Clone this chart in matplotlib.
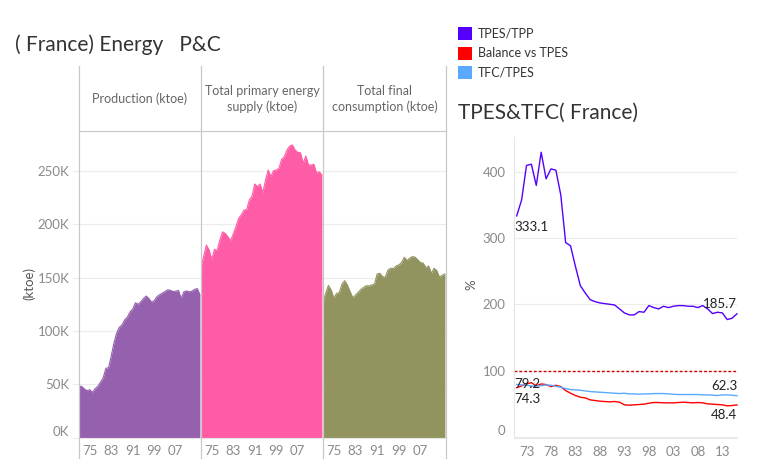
import numpy as np
import matplotlib
matplotlib.use("Agg")
import matplotlib.pyplot as plt
from matplotlib.lines import Line2D
from matplotlib.patches import Rectangle

plt.rcParams['font.family'] = ['Lato', 'DejaVu Sans']

# data
years = list(range(1971, 2017))

production = [48.4, 48, 45.6, 44, 45, 42.4, 46, 48, 52, 56,
              65, 65.6, 76.6, 88.6, 98, 103.4, 105.7, 110.4, 113, 118,
              120.6, 126.5, 125, 127.4, 130.5, 132.8, 130.5, 127, 128.4, 132.2,
              134, 135.5, 137, 138.6, 138.2, 137, 137.3, 138, 130.5, 136.7,
              137.6, 136.7, 137.3, 139, 139.8, 134]
tpes = [160.3, 169.8, 180.7, 176, 167.2, 176.6, 175.4, 185.3, 193, 191.6,
        188.4, 184.7, 191, 197.8, 205.7, 208.8, 213.4, 214, 223, 226.6,
        237.9, 235.4, 237.9, 229.7, 241.6, 251, 244.8, 250.4, 251, 252.6,
        261, 263.5, 269.8, 273.5, 274.5, 269.8, 267.6, 267.3, 257.3, 264.2,
        255.7, 255.7, 256.4, 248, 249.4, 246.3]
tfc = [127.5, 135.3, 142.8, 138.4, 130.9, 135.3, 135.9, 144, 147.2, 143.1,
       136.9, 131.2, 133.7, 136.2, 139, 140.9, 142.5, 142.2, 143.1, 144,
       153.5, 154.1, 151, 150.4, 157.3, 158.8, 158.5, 161, 162, 164.2,
       169.2, 166.1, 168.3, 169.8, 169.2, 166.7, 164.2, 163.6, 159.2, 161,
       154.1, 158.8, 156.6, 150.4, 152.3, 153.5]
panel_titles = ['Production (ktoe)', 'Total primary energy\nsupply (ktoe)',
                'Total final\nconsumption (ktoe)']
panel_colors = ['#9560ad', '#ff5ca8', '#929460']

tpes_tpp = [333.1, 357, 409, 411, 379, 429, 389, 404, 402, 365,
            293, 288, 257, 228, 217, 207, 204, 202, 201, 200,
            199, 193, 187, 184, 184, 189, 188, 198, 195, 193,
            197, 195, 197, 198, 198, 197, 197, 195, 198, 193,
            186, 188, 187, 177, 179, 185.7]
balance = [74.3, 77, 80, 82, 77, 80, 79, 76, 78, 76,
           70, 66, 62.5, 60, 59, 56, 55, 54, 53.5, 53,
           53.5, 52.5, 48.5, 48, 48.5, 49, 49.5, 51, 52, 52,
           51.5, 51.5, 51.5, 52, 52.5, 52, 51.5, 52, 51.5, 50,
           49.5, 49, 48.5, 47, 47.5, 48.4]
tfc_tpes = [79.2, 78.5, 78, 77, 76.5, 77.5, 78.5, 78, 76.5, 75,
            73, 71.5, 71, 70.5, 69.5, 68.5, 68, 67.5, 67, 66.5,
            66, 65.5, 66, 65, 65, 64.5, 65, 65, 65.5, 65.5,
            65.5, 65, 64.5, 64, 64, 64, 64, 64, 63.5, 63.5,
            63, 62.5, 63.5, 63.5, 63, 62.3]
line_names = ['TPES/TPP', 'Balance vs TPES', 'TFC/TPES']
line_colors = ['#5500ff', '#ff0000', '#5aa9ff']

W, H = 757, 467
fig = plt.figure(figsize=(W / 100, H / 100), dpi=100)


def fx(px):
    return px / W


def fy(py):
    return 1 - py / H


grid_c = '#ececec'
tick_c = '#8a8a8a'
border_c = '#c8c8c8'

# ---- left: three area panels
edges = [79, 201, 323, 446]
ktoe_ticks = [0, 50, 100, 150, 200, 250]
series = [production, tpes, tfc]
for i in range(3):
    ax = fig.add_axes([fx(edges[i]), fy(437.6), fx(edges[i + 1] - edges[i]), (437.6 - 131) / H])
    ax.fill_between(years, series[i], 0, color=panel_colors[i], lw=0)
    ax.plot(years, series[i], color=panel_colors[i], lw=0.8)
    ax.set_xlim(1971, 2016.4)
    ax.set_ylim(0, 287.6)
    ax.set_yticks(ktoe_ticks)
    ax.yaxis.grid(True, color=grid_c, lw=0.8)
    ax.set_axisbelow(True)
    ax.set_xticks([1975, 1983, 1991, 1999, 2007])
    ax.set_xticklabels(['75', '83', '91', '99', '07'])
    ax.tick_params(axis='x', length=0, colors=tick_c, labelsize=9.5, pad=5)
    for s in ['left', 'right']:
        ax.spines[s].set_visible(False)
    ax.spines['top'].set_color(border_c)
    ax.spines['bottom'].set_color('#e6e6e6')
    if i == 0:
        ax.set_yticklabels(['%dK' % v for v in ktoe_ticks])
        ax.tick_params(axis='y', length=5, color=grid_c, colors=tick_c, labelsize=9.5, pad=2)
        ax.get_yticklabels()[0].set_verticalalignment('bottom')
    else:
        ax.tick_params(axis='y', length=0, labelleft=False)
    fig.text(fx((edges[i] + edges[i + 1]) / 2), fy(99), panel_titles[i],
             ha='center', va='center', fontsize=9, color='#666666', linespacing=1.35)

for e in edges:
    fig.add_artist(Line2D([fx(e), fx(e)], [fy(66), fy(458)], color=border_c, lw=0.9))

fig.text(fx(29), fy(283), '(ktoe)', rotation=90, fontsize=9.5, color='#555555', ha='center', va='center')
fig.text(fx(15), fy(45), '( France) Energy   P&C', fontsize=15, color='#333333', va='center')

# ---- right: ratio lines
ax2 = fig.add_axes([fx(514), fy(437.7), fx(223), (437.7 - 137) / H])
ax2.axhline(100, color='#cc0000', lw=1, ls=(0, (2, 1.5)))
for vals, c in zip([tpes_tpp, balance, tfc_tpes], line_colors):
    ax2.plot(years, vals, color=c, lw=1, clip_on=False)
ax2.set_xlim(1970.45, 2016.0)
ax2.set_ylim(-1, 452)
ax2.set_yticks([0, 100, 200, 300, 400])
ax2.yaxis.grid(True, color=grid_c, lw=0.8)
ax2.set_axisbelow(True)
xt = list(range(1973, 2016, 5))
ax2.set_xticks(xt)
ax2.set_xticklabels(['%02d' % (y % 100) for y in xt])
ax2.tick_params(axis='x', length=0, colors=tick_c, labelsize=9.5, pad=6)
ax2.tick_params(axis='y', length=0, colors=tick_c, labelsize=9.5, pad=6)
ax2.get_yticklabels()[0].set_verticalalignment('bottom')
for s in ['top', 'right']:
    ax2.spines[s].set_visible(False)
ax2.spines['left'].set_color('#e6e6e6')
ax2.spines['bottom'].set_color('#e6e6e6')
fig.text(fx(471), fy(285), '%', fontsize=9.5, color='#555555', rotation=90, ha='center', va='center')

lab = dict(fontsize=9.5, color='#222222')
ax2.annotate('%.1f' % tpes_tpp[0], (years[0], tpes_tpp[0]), xytext=(-2, -4), textcoords='offset points', ha='left', va='top', **lab)
ax2.annotate('%.1f' % tpes_tpp[-1], (years[-1], tpes_tpp[-1]), xytext=(0, 3), textcoords='offset points', ha='right', va='bottom', **lab)
ax2.annotate('%.1f' % tfc_tpes[0], (years[0], tfc_tpes[0]), xytext=(-2, 0), textcoords='offset points', ha='left', va='center', **lab)
ax2.annotate('%.1f' % balance[0], (years[0], balance[0]), xytext=(-2, -4), textcoords='offset points', ha='left', va='top', **lab)
ax2.annotate('%.1f' % tfc_tpes[-1], (years[-1], tfc_tpes[-1]), xytext=(0, 3), textcoords='offset points', ha='right', va='bottom', **lab)
ax2.annotate('%.1f' % balance[-1], (years[-1], balance[-1]), xytext=(0, -3), textcoords='offset points', ha='right', va='top', **lab)

fig.text(fx(458), fy(113), 'TPES&TFC( France)', fontsize=15, color='#333333', va='center')

# legend
for k, (name, c) in enumerate(zip(line_names, line_colors)):
    yc = 33.5 + k * 19.5
    fig.add_artist(Rectangle((fx(458), fy(yc + 6.5)), fx(14), 13 / H, color=c, lw=0))
    fig.text(fx(478), fy(yc), name, fontsize=9, color='#333333', va='center')

fig.savefig('out.png', dpi=100)
